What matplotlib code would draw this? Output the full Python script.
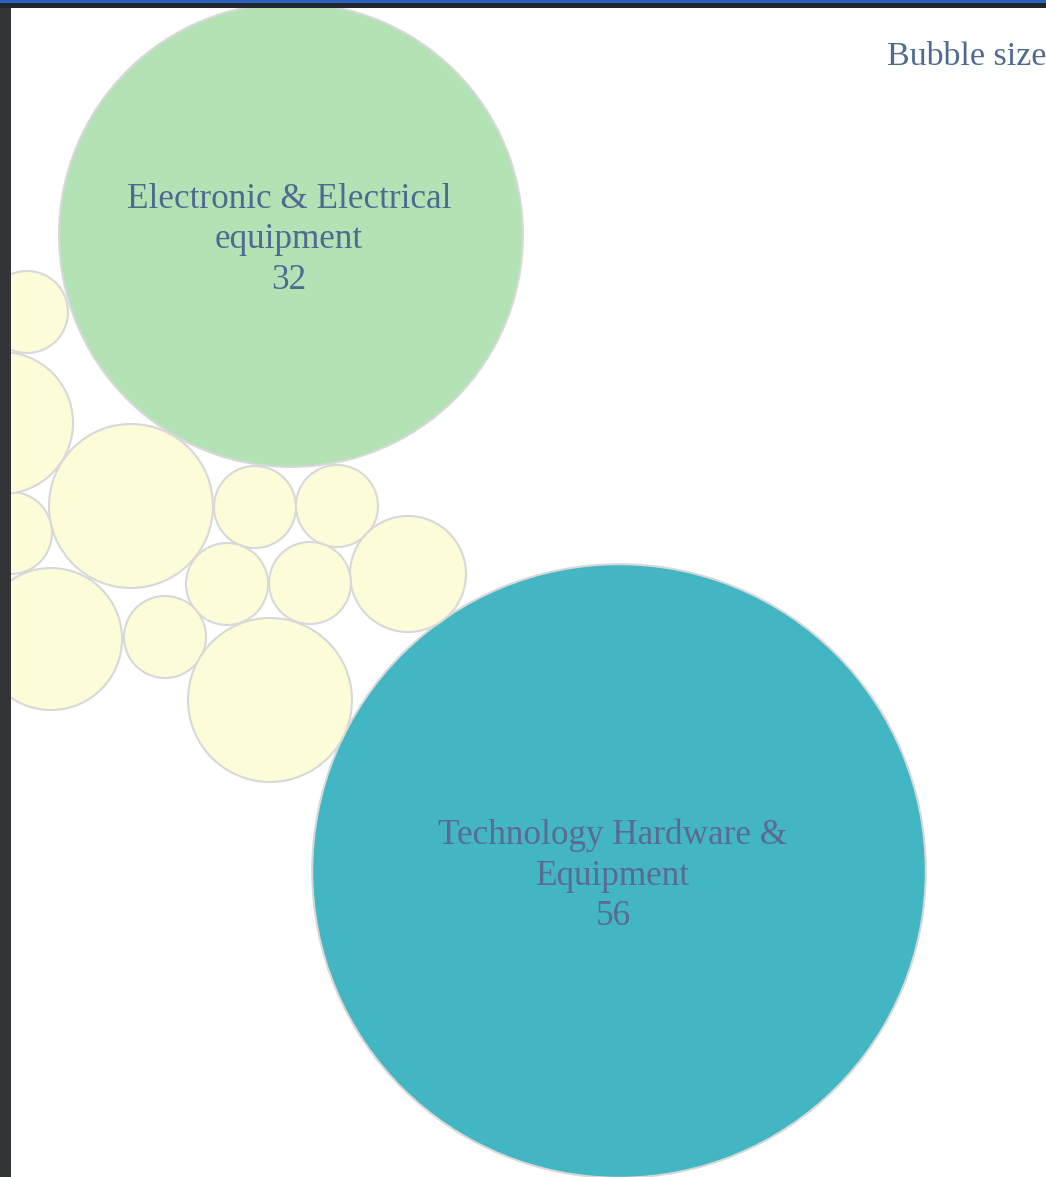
# Packed bubble chart

import numpy as np
import matplotlib.pyplot as plt
from matplotlib.patches import Circle, Rectangle

# Data
labels = ['Electronic & Electrical\nequipment', 'Technology Hardware &\nEquipment',
          '', '', '', '', '', '', '', '', '', '', '', '']
values = [32, 56, 4, 1, 1, 2, 1, 1, 1, 4, 3, 1, 3, 1]
fills = ['#b3e3b5', '#42b6c2'] + ['#fcfdd8'] * 12
text_colors = ['#4e6a90', '#5b6a92']

# Layout of the packed bubbles (pixel centers)
cx = [291, 619, 131, 255, 337, 408, 227, 310, 165, 270, 51, 11, 2, 27]
cy = [235, 871, 506, 507, 506, 574, 584, 583, 637, 700, 639, 533, 423, 312]
scale = 41.0
label_dx = [-2, -6]

W, H = 1046, 1177
fig = plt.figure(figsize=(W / 100, H / 100), dpi=100)
ax = fig.add_axes([0, 0, 1, 1])
ax.set_xlim(0, W)
ax.set_ylim(H, 0)
ax.set_aspect('equal')
ax.axis('off')

for i in range(len(values)):
    r = scale * np.sqrt(values[i])
    ax.add_patch(Circle((cx[i], cy[i]), r, facecolor=fills[i],
                        edgecolor='#d8d8d8', lw=1.5, zorder=2))
    if labels[i]:
        ax.text(cx[i] + label_dx[i], cy[i] + 5, labels[i] + '\n' + str(values[i]),
                ha='center', va='center', fontsize=25.3, family='Liberation Serif',
                color=text_colors[i], linespacing=1.3, zorder=3)

ax.text(887, 57, 'Bubble size', ha='left', va='center', fontsize=24.5,
        family='Liberation Serif', color='#4e6a90', zorder=3)

# window borders
ax.add_patch(Rectangle((0, 0), 11, H, facecolor='#323438', lw=0, zorder=5))
ax.add_patch(Rectangle((0, 0), W, 8, facecolor='#22262e', lw=0, zorder=5))
ax.add_patch(Rectangle((0, 0), W, 3, facecolor='#2a62c0', lw=0, zorder=6))

fig.savefig('out.png', dpi=100)
